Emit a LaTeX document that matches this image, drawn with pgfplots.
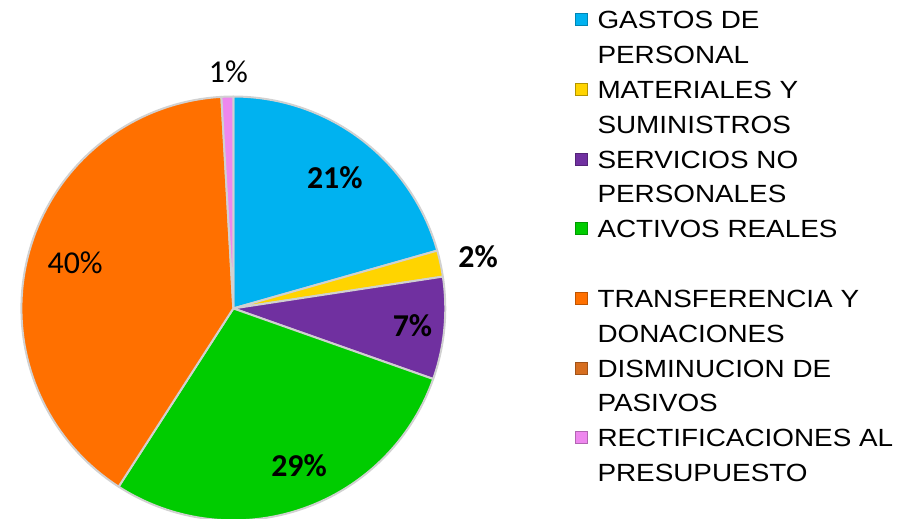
\documentclass[border=0pt]{standalone}
\usepackage{pgfplots}
\pgfplotsset{compat=1.18}
\usepackage{pgfplotstable}
\usepackage{fontspec}
\setmainfont{Carlito}
\newfontfamily\legfont[FakeStretch=1.12]{Liberation Sans}

\definecolor{cA}{RGB}{0,178,240}
\definecolor{cB}{RGB}{255,212,0}
\definecolor{cC}{RGB}{112,48,160}
\definecolor{cD}{RGB}{0,204,0}
\definecolor{cE}{RGB}{255,112,0}
\definecolor{cF}{RGB}{214,110,32}
\definecolor{cG}{RGB}{238,135,238}

% shares in percent, clockwise from 12 o'clock
\pgfplotstableread{
idx value
0 20.6
1 2.0
2 7.8
3 28.7
4 40.0
5 0.0
6 0.9
}\piedata

\def\cx{230}
\def\cy{211}
\def\R{213}

\newcommand\slice[2]{%
  \edef\tmp{\noexpand\addplot[fill=#2, draw=white!82!black, line width=2bp, line join=round,
    domain=\csname angE#1\endcsname:\csname angS#1\endcsname, samples=80,
    variable=\noexpand\t, forget plot]
    ({\cx+\R*cos(\noexpand\t)},{\cy+\R*sin(\noexpand\t)}) -- (axis cs:\cx,\cy) -- cycle;}%
  \tmp}
\newcommand\cont[1]{\addlegendimage{empty legend}\addlegendentry{#1}}

\begin{document}
\def\cum{90}
\pgfplotsforeachungrouped \i in {0,...,6}{%
  \pgfplotstablegetelem{\i}{value}\of\piedata
  \pgfmathsetmacro\nxt{\cum-3.6*\pgfplotsretval}%
  \expandafter\xdef\csname angS\i\endcsname{\cum}%
  \expandafter\xdef\csname angE\i\endcsname{\nxt}%
  \xdef\cum{\nxt}%
}
\begin{tikzpicture}
\begin{axis}[
  scale only axis, width=898bp, height=521bp,
  xmin=0, xmax=898, ymin=0, ymax=521,
  hide axis, clip=false,
  legend cell align=left,
  legend image code/.code={\filldraw[#1, line width=1bp] (0.5bp,-2.5bp) rectangle (12.5bp,9.5bp);},
  legend style={at={(axis cs:573,515)}, anchor=north west, draw=none, fill=none,
    inner sep=0pt, outer sep=0pt,
    /tikz/row sep=0bp, /tikz/column sep=10bp,
    font=\legfont\fontsize{25bp}{33bp}\selectfont,
    nodes={inner sep=0pt, outer sep=0pt, text height=23bp, text depth=12bp}},
]
\slice{0}{cA}
\slice{1}{cB}
\slice{2}{cC}
\slice{3}{cD}
\slice{4}{cE}
\slice{6}{cG}

\addlegendimage{fill=cA, draw=cA!75!black}
\addlegendentry{GASTOS DE}
\cont{PERSONAL}
\addlegendimage{fill=cB, draw=cB!70!black}
\addlegendentry{MATERIALES Y}
\cont{SUMINISTROS}
\addlegendimage{fill=cC, draw=cC!75!black}
\addlegendentry{SERVICIOS NO}
\cont{PERSONALES}
\addlegendimage{fill=cD, draw=cD!75!black}
\addlegendentry{ACTIVOS REALES}
\cont{\strut}
\addlegendimage{fill=cE, draw=cE!75!black}
\addlegendentry{TRANSFERENCIA Y}
\cont{DONACIONES}
\addlegendimage{fill=cF, draw=cF!75!black}
\addlegendentry{DISMINUCION DE}
\cont{PASIVOS}
\addlegendimage{fill=cG, draw=cG!75!black}
\addlegendentry{RECTIFICACIONES AL}
\cont{PRESUPUESTO}

\node[font=\fontsize{32bp}{36bp}\selectfont\bfseries] at (axis cs:332,342) {21\%};
\node[font=\fontsize{32bp}{36bp}\selectfont\bfseries] at (axis cs:476,263) {2\%};
\node[font=\fontsize{32bp}{36bp}\selectfont\bfseries] at (axis cs:410,194) {7\%};
\node[font=\fontsize{32bp}{36bp}\selectfont\bfseries] at (axis cs:296,53) {29\%};
\node[font=\fontsize{32bp}{36bp}\selectfont] at (axis cs:71,257) {40\%};
\node[font=\fontsize{32bp}{36bp}\selectfont] at (axis cs:225,449) {1\%};

\coordinate (bl) at (axis cs:0,0);
\coordinate (tr) at (axis cs:898,521);
\end{axis}
\pgfresetboundingbox
\useasboundingbox (bl) rectangle (tr);
\end{tikzpicture}
\end{document}
